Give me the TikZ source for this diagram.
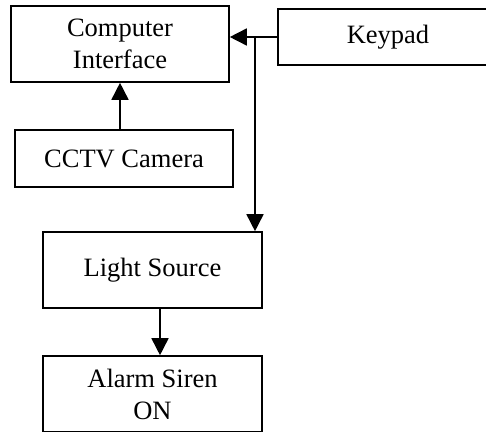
\documentclass[tikz,border=0pt]{standalone}
\usepackage{fontspec}
\setmainfont{Liberation Serif}
\usetikzlibrary{arrows.meta}
\begin{document}
\begin{tikzpicture}[x=1pt,y=-1pt,
  box/.style={draw,line width=1.6pt,rectangle,inner sep=0pt,align=center,
    font=\fontsize{26.5}{32}\selectfont},
  conn/.style={line width=1.6pt,-{Triangle[length=17pt,width=17pt]}}]
\useasboundingbox (0,0) rectangle (486,431);
\clip (0,0) rectangle (486,431);
\node[box,minimum width=218pt,minimum height=76pt] (ci) at (120,44) {Computer\\Interface};
\node[box,minimum width=220pt,minimum height=56pt] (kp) at (388,37) {Keypad};
\node[box,minimum width=218pt,minimum height=57pt] (cc) at (124,158.5) {CCTV Camera};
\node[box,minimum width=219pt,minimum height=76pt] (ls) at (152.5,270) {Light Source};
\node[box,minimum width=219pt,minimum height=76pt] (al) at (152.5,394) {Alarm Siren\\ON};
\coordinate (j) at (255,37);
\draw[conn] (kp.west) -- (kp.west -| ci.east);
\draw[conn] (j) -- (j |- ls.north);
\draw[conn] (cc.north -| 120,0) -- (ci.south -| 120,0);
\draw[conn] (ls.south -| 160,0) -- (al.north -| 160,0);
\end{tikzpicture}
\end{document}
